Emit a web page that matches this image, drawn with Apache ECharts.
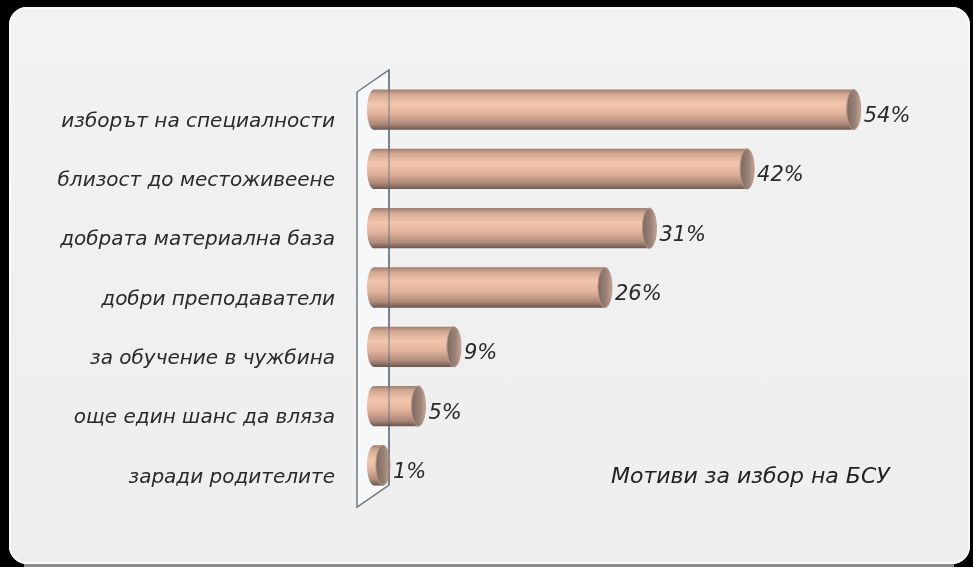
<!DOCTYPE html>
<html>
<head>
<meta charset="utf-8">
<title>Мотиви за избор на БСУ</title>
<script src="https://cdn.jsdelivr.net/npm/echarts@6/dist/echarts.min.js"></script>
<style>
    html, body { margin: 0; padding: 0; background: #000; }
    #frame {
        position: absolute; left: 9px; top: 7px; width: 961px; height: 557px;
        border-radius: 18px;
        background: linear-gradient(#f2f2f2, #eeeeee);
        box-shadow: inset 0 0 0 2px #f9f9f9;
    }
    #strip { position: absolute; left: 24px; top: 564px; width: 930px; height: 3px; background: #8a8a8a; }
    #chart { position: absolute; left: 0; top: 0; width: 973px; height: 567px; }
</style>
</head>
<body>
<div id="frame"></div>
<div id="strip"></div>
<div id="chart"></div>
<script>
// данни
const categories = [
    'изборът на специалности',
    'близост до местоживеене',
    'добрата материална база',
    'добри преподаватели',
    'за обучение в чужбина',
    'още един шанс да вляза',
    'заради родителите'
];
const values = [54, 42, 31, 26, 9, 5, 1];
const chartTitle = 'Мотиви за избор на БСУ';

const GRID = { left: 374, top: 80, width: 533, height: 415 };
const FONT = '"DejaVu Sans", sans-serif';

const myChart = echarts.init(document.getElementById('chart'));

// цилиндър: тяло + две елипси
const bodyGradient = () => new echarts.graphic.LinearGradient(0, 0, 0, 1, [
    { offset: 0, color: '#9a8074' },
    { offset: 0.12, color: '#d3a893' },
    { offset: 0.35, color: '#f2c6ad' },
    { offset: 0.6, color: '#e2b39c' },
    { offset: 0.85, color: '#b08a7a' },
    { offset: 1, color: '#6c554b' }
]);

const renderCylinder = (params, api) => {
    const idx = api.value(0);
    const v = api.value(1);
    const start = api.coord([0, idx]);
    const end = api.coord([v, idx]);
    const h = api.size([0, 1])[1] * 0.68;
    const rx = 7;
    const y = start[1];
    return {
        type: 'group',
        children: [
            { type: 'ellipse', shape: { cx: start[0], cy: y, rx: rx, ry: h / 2 }, style: { fill: bodyGradient() } },
            { type: 'rect', shape: { x: start[0], y: y - h / 2, width: end[0] - start[0], height: h }, style: { fill: bodyGradient() } },
            {
                type: 'ellipse', shape: { cx: end[0], cy: y, rx: rx, ry: h / 2 },
                style: {
                    fill: new echarts.graphic.LinearGradient(0, 0, 1, 0, [
                        { offset: 0, color: '#7d685e' },
                        { offset: 0.6, color: '#9a8276' },
                        { offset: 1, color: '#c7a797' }
                    ]),
                    stroke: '#b89888', lineWidth: 1
                }
            },
            {
                type: 'text',
                style: {
                    x: end[0] + rx + 3, y: y + 7, text: v + '%',
                    fontSize: 21, fontStyle: 'italic', fontFamily: FONT,
                    fill: '#2a2a2a', verticalAlign: 'middle'
                }
            }
        ]
    };
};

// стена зад оста
const xa = GRID.left - 17, xb = GRID.left + 15;
const gTop = GRID.top, gBot = GRID.top + GRID.height;

const option = {
    animation: false,
    title: {
        text: chartTitle, left: 606, top: 461,
        textStyle: { fontSize: 22, fontStyle: 'italic', fontWeight: 'normal', fontFamily: FONT, color: '#222' }
    },
    grid: { left: GRID.left, top: GRID.top, width: GRID.width, height: GRID.height },
    xAxis: { type: 'value', min: 0, max: 60, show: false },
    yAxis: {
        type: 'category', data: categories, inverse: true,
        axisLine: { show: false }, axisTick: { show: false },
        axisLabel: {
            margin: 39, fontSize: 20, fontStyle: 'italic', fontFamily: FONT, color: '#2a2a2a',
            verticalAlign: 'top', lineHeight: 24
        }
    },
    graphic: [
        {
            type: 'polygon', z: 0,
            shape: { points: [[xa, gTop + 12], [xb, gTop - 10], [xb, gBot - 10], [xa, gBot + 12]] },
            style: { fill: '#f7f8f9', stroke: '#6f7882', lineWidth: 1.5 }
        },
        {
            type: 'line', z: 10,
            shape: { x1: xb, y1: gTop - 10, x2: xb, y2: gBot - 10 },
            style: { stroke: '#5f6872', lineWidth: 1.5, opacity: 0.55 }
        }
    ],
    series: [{
        type: 'custom',
        renderItem: renderCylinder,
        encode: { x: 1, y: 0 },
        data: values.map((v, i) => [i, v])
    }]
};

myChart.setOption(option);
</script>
</body>
</html>
